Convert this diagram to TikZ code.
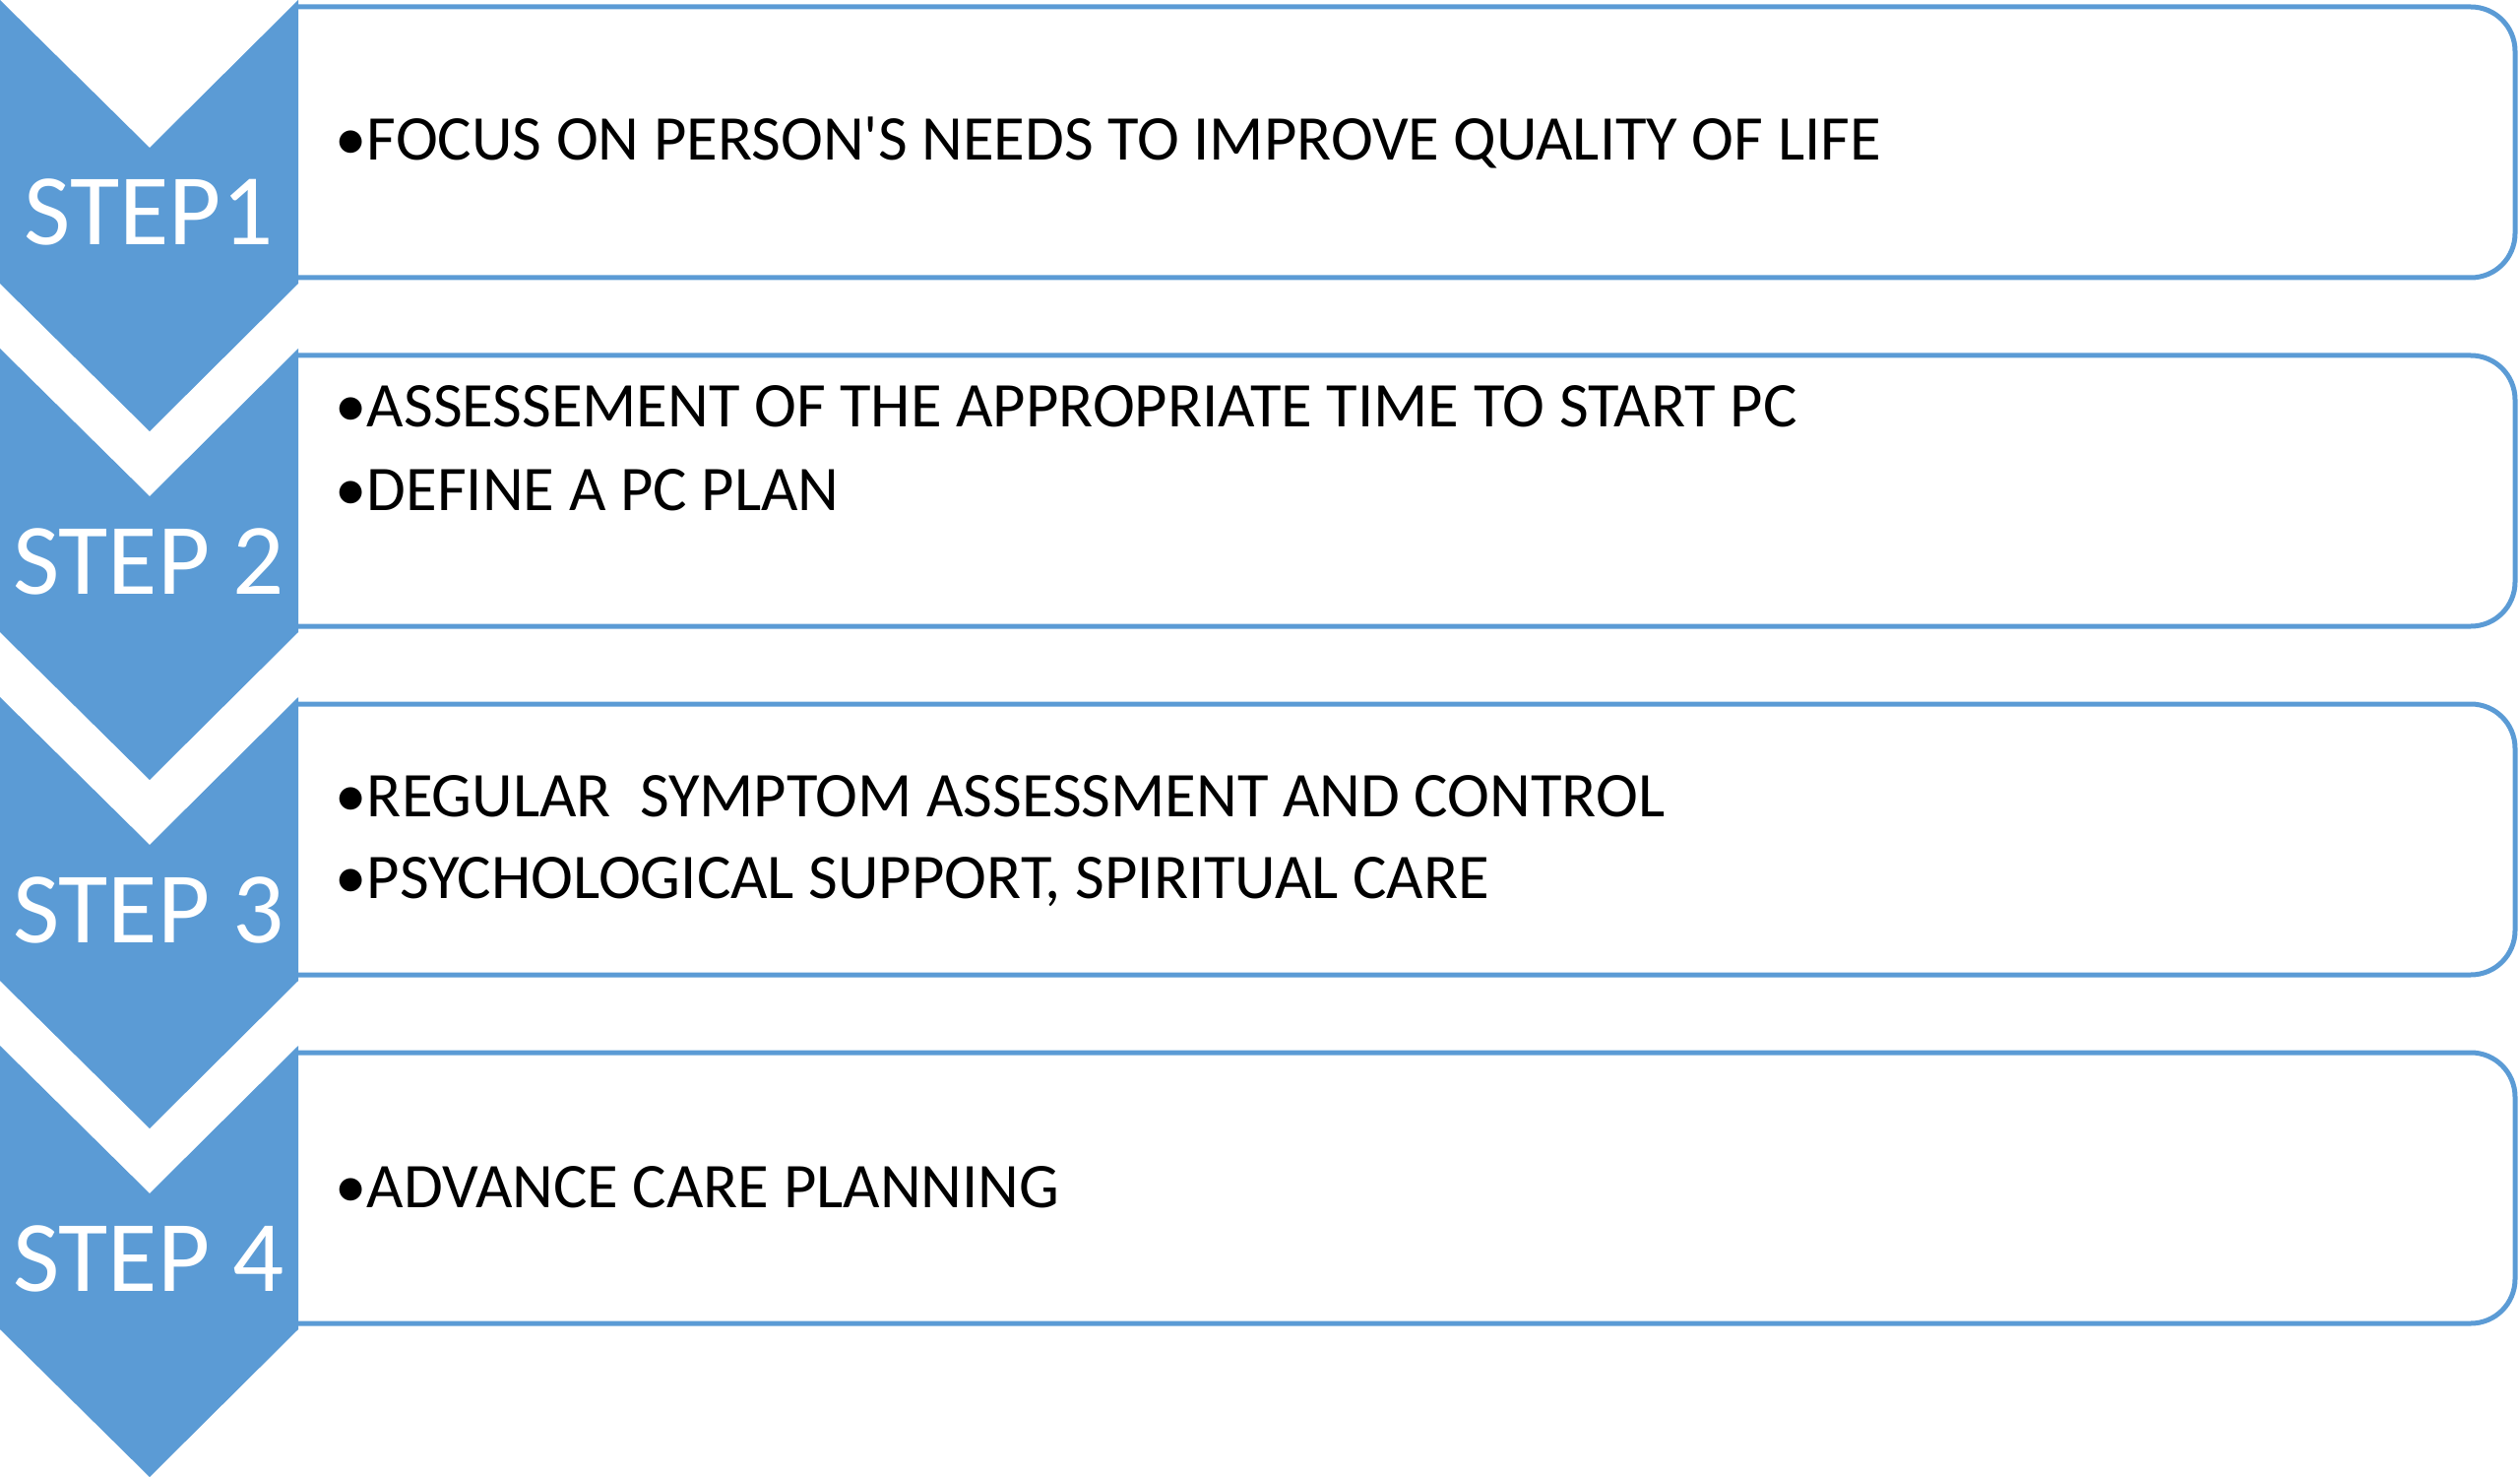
\documentclass[tikz,border=0pt]{standalone}
\usepackage{fontspec}
\setmainfont{Carlito}
\definecolor{stepblue}{HTML}{5B9BD5}
\tikzset{
  stepbox/.style={draw=stepblue,line width=0.5mm,rounded corners=4.5mm},
  steplabel/.style={anchor=base,inner sep=0pt,text=white,font=\fontsize{29.3pt}{32pt}\selectfont},
  itemline/.style={anchor=base west,inner sep=0pt,font=\fontsize{18.4pt}{21pt}\selectfont}
}
\begin{document}
\begin{tikzpicture}[x=0.1mm,y=-0.1mm]
\useasboundingbox (0,0) rectangle (2560,1500);
% boxes and chevrons
\foreach \k in {0,1,2,3} {
  \pgfmathsetmacro{\t}{354*\k}
  \begin{scope}
    \clip (303,\t) rectangle (2560,\t+300);
    \draw[stepbox] (200,\t+7) rectangle (2555,\t+282);
  \end{scope}
  \fill[stepblue] (0,\t)--(152,\t+150)--(303,\t)--(303,\t+288)--(152,\t+438)--(0,\t+288)--cycle;
}
\foreach \k/\lab in {0/STEP1,1/STEP 2,2/STEP 3,3/STEP 4}
  \node[steplabel] (step\k) at (151,354*\k+249) {\lab};
% items
\node[itemline] (focus) at (340,163) {•FOCUS ON PERSON\textquotesingle S NEEDS TO IMPROVE QUALITY OF LIFE};
\node[itemline] (assess) at (340,433) {•ASSESSEMENT OF THE APPROPRIATE TIME TO START PC};
\node[itemline] (plan) at (340,518) {•DEFINE A PC PLAN};
\node[itemline] (symptom) at (340,829) {•REGULAR \ SYMPTOM ASSESSMENT AND CONTROL};
\node[itemline] (support) at (340,912) {•PSYCHOLOGICAL SUPPORT, SPIRITUAL CARE};
\node[itemline] (advance) at (340,1226) {•ADVANCE CARE PLANNING};
\end{tikzpicture}
\end{document}
